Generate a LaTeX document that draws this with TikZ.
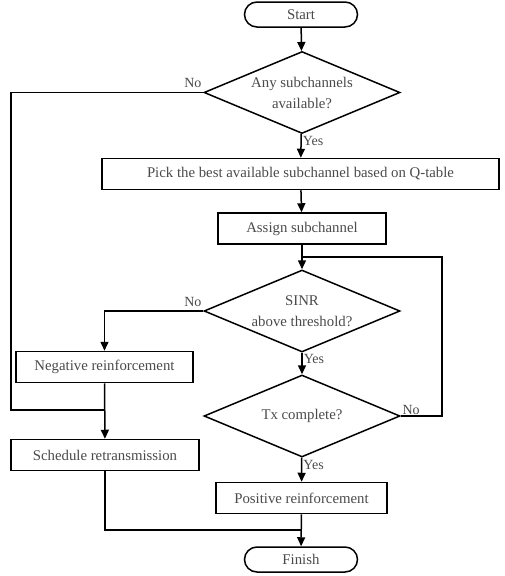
\documentclass[tikz,border=0pt]{standalone}
\usepackage{fontspec}
\setmainfont{Liberation Serif}
\usetikzlibrary{shapes.geometric, arrows.meta, positioning}
\definecolor{txtgray}{HTML}{4a4a4a}

\begin{document}
\begin{tikzpicture}[
    x=1pt, y=-1pt,
    every node/.style={text=txtgray, font=\fontsize{14.8}{21}\selectfont},
    term/.style={rectangle, draw=black, line width=1.5pt, rounded corners=12.5pt, minimum width=113pt, minimum height=25pt, inner sep=0pt},
    proc/.style={rectangle, draw=black, line width=1.5pt, minimum height=31pt, inner sep=0pt},
    decision/.style={diamond, aspect=2.39, draw=black, line width=1.5pt, minimum width=196pt, minimum height=82pt, inner sep=0pt, align=center},
    arrow/.style={-{Triangle[length=9pt,width=8pt]}, line width=1.5pt},
    line/.style={line width=1.5pt},
    lbl/.style={inner sep=1pt, font=\fontsize{14}{16}\selectfont}
]
\useasboundingbox (0,0) rectangle (505,576);

\node[term] (start) at (301,14.5) {Start};
\node[decision] (anyq) at (302,92.5) {Any subchannels\\available?};
\node[proc, minimum width=397pt] (pick) at (300.5,174) {Pick the best available subchannel based on Q-table};
\node[proc, minimum width=168pt] (assign) at (302,228.5) {Assign subchannel};
\node[decision] (sinr) at (302,311) {SINR\\above threshold?};
\node[proc, minimum width=177pt] (neg) at (104.5,367) {Negative reinforcement};
\node[decision] (tx) at (302,416) {Tx complete?};
\node[proc, minimum width=188pt] (sched) at (105,455) {Schedule retransmission};
\node[proc, minimum width=171pt] (pos) at (301.5,498) {Positive reinforcement};
\node[term] (finish) at (301,559.5) {Finish};

% corner points of the loops
\coordinate (noleft) at (11,410);
\coordinate (join) at (104.5,410);
\coordinate (loopr) at (442,257);
\coordinate (loopm) at (302,257);
\coordinate (fin) at (301,530);

\draw[arrow] (start) -- (anyq);
\draw[arrow] (anyq) -- node[lbl, pos=0.3, anchor=west] {Yes} (pick);
\draw[line] (anyq.west) -- node[lbl, pos=0, above left, yshift=3pt] {No} (anyq.west -| noleft) -- (noleft) -- (join);
\draw[arrow] (pick) -- (assign);
\draw[arrow] (assign) -- (sinr);
\draw[arrow] (sinr.west) -| node[lbl, pos=0, above left, yshift=3pt] {No} (neg.north);
\draw[arrow] (sinr) -- node[lbl, pos=0.3, anchor=west] {Yes} (tx);
\draw[line] (tx.east) -| node[lbl, pos=0, above right] {No} (loopr) -- (loopm);
\draw[arrow] (neg) -- (sched);
\draw[arrow] (tx) -- node[lbl, pos=0.3, anchor=west] {Yes} (pos);
\draw[line] (sched.south) |- (fin);
\draw[arrow] (pos) -- (finish);
\end{tikzpicture}
\end{document}
